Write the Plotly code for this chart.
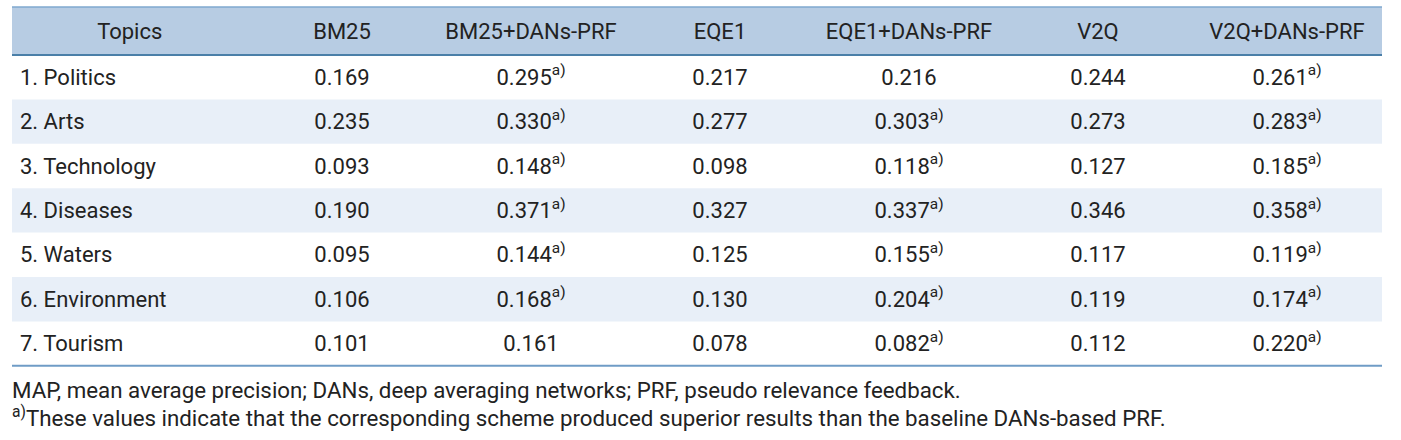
import plotly.graph_objects as go

W, H = 1401, 440

columns = ["Topics", "BM25", "BM25+DANs-PRF", "EQE1", "EQE1+DANs-PRF", "V2Q", "V2Q+DANs-PRF"]
topics = ["1. Politics", "2. Arts", "3. Technology", "4. Diseases", "5. Waters", "6. Environment", "7. Tourism"]
bm25 = [0.169, 0.235, 0.093, 0.190, 0.095, 0.106, 0.101]
bm25_prf = [0.295, 0.330, 0.148, 0.371, 0.144, 0.168, 0.161]
eqe1 = [0.217, 0.277, 0.098, 0.327, 0.125, 0.130, 0.078]
eqe1_prf = [0.216, 0.303, 0.118, 0.337, 0.155, 0.204, 0.082]
v2q = [0.244, 0.273, 0.127, 0.346, 0.117, 0.119, 0.112]
v2q_prf = [0.261, 0.283, 0.185, 0.358, 0.119, 0.174, 0.220]
# superscript "a)" flags
bm25_prf_sup = [1, 1, 1, 1, 1, 1, 0]
eqe1_prf_sup = [0, 1, 1, 1, 1, 1, 1]
v2q_prf_sup = [1, 1, 1, 1, 1, 1, 1]

footnotes = [
    "MAP, mean average precision; DANs, deep averaging networks; PRF, pseudo relevance feedback.",
    "<sup>a)</sup>These values indicate that the corresponding scheme produced superior results than the baseline DANs-based PRF.",
]

def fmt(vals, sups=None):
    out = []
    for i, v in enumerate(vals):
        s = f"{v:.3f}"
        if sups and sups[i]:
            s += "<sup>a)</sup>"
        out.append(s)
    return out

data_cols = [
    fmt(bm25),
    fmt(bm25_prf, bm25_prf_sup),
    fmt(eqe1),
    fmt(eqe1_prf, eqe1_prf_sup),
    fmt(v2q),
    fmt(v2q_prf, v2q_prf_sup),
]

FONT = "Roboto, Arial, sans-serif"
TXT = "#222222"
HEAD_BG = "#b7cce3"
STRIPE = "#e8eff8"

# layout geometry (pixel-like axis units)
left_px, right_px = 12, 1382
top_px = 7
head_h = 48
row_h = 44.4
first_w = 235.5
col_w = 189.0
text_pad = 8
text_dy = 2

n = len(topics)
head_bottom = top_px + head_h
row_centers = [head_bottom + row_h * (i + 0.5) + text_dy for i in range(n)]
table_bottom = head_bottom + row_h * n
col_centers = [left_px + first_w + col_w * (j + 0.5) for j in range(len(data_cols))]

fig = go.Figure()

# header text
fig.add_trace(go.Scatter(
    x=[left_px + first_w / 2] + col_centers,
    y=[top_px + head_h / 2 + text_dy] * len(columns),
    text=columns, mode="text", textposition="middle center",
    textfont=dict(family=FONT, size=22, color=TXT), hoverinfo="skip", showlegend=False))

# topics column
fig.add_trace(go.Scatter(
    x=[left_px + text_pad] * n, y=row_centers, text=topics,
    mode="text", textposition="middle right",
    textfont=dict(family=FONT, size=22, color=TXT), hoverinfo="skip", showlegend=False))

# data columns
for j, col in enumerate(data_cols):
    fig.add_trace(go.Scatter(
        x=[col_centers[j]] * n, y=row_centers, text=col,
        mode="text", textposition="middle center",
        textfont=dict(family=FONT, size=22, color=TXT), hoverinfo="skip", showlegend=False))

# backgrounds
fig.add_shape(type="rect", xref="x", yref="y", x0=left_px, x1=right_px,
              y0=top_px, y1=head_bottom, fillcolor=HEAD_BG, line=dict(width=0), layer="below")
for i in range(n):
    if i % 2 == 1:
        fig.add_shape(type="rect", xref="x", yref="y", x0=left_px, x1=right_px,
                      y0=head_bottom + row_h * i, y1=head_bottom + row_h * (i + 1),
                      fillcolor=STRIPE, line=dict(width=0), layer="below")

def hline(ypx, color, width):
    fig.add_shape(type="line", xref="x", yref="y", x0=left_px, x1=right_px,
                  y0=ypx, y1=ypx, line=dict(color=color, width=width))

hline(top_px, "#7fa8cf", 1.5)
hline(head_bottom, "#4a7fa8", 2)
hline(table_bottom, "#6f9cc6", 2)

for t, y in zip(footnotes, [390, 417]):
    fig.add_annotation(text=t, xref="x", yref="y", x=left_px - 2, y=y,
                       xanchor="left", yanchor="middle", showarrow=False,
                       font=dict(family=FONT, size=22.3, color=TXT))

fig.update_xaxes(range=[0, W], visible=False, fixedrange=True)
fig.update_yaxes(range=[H, 0], visible=False, fixedrange=True)
fig.update_layout(width=W, height=H, margin=dict(l=0, r=0, t=0, b=0),
                  paper_bgcolor="white", plot_bgcolor="white")
fig.write_html("out.html", config={"displayModeBar": False},
               post_script="document.body.style.margin='0';")
